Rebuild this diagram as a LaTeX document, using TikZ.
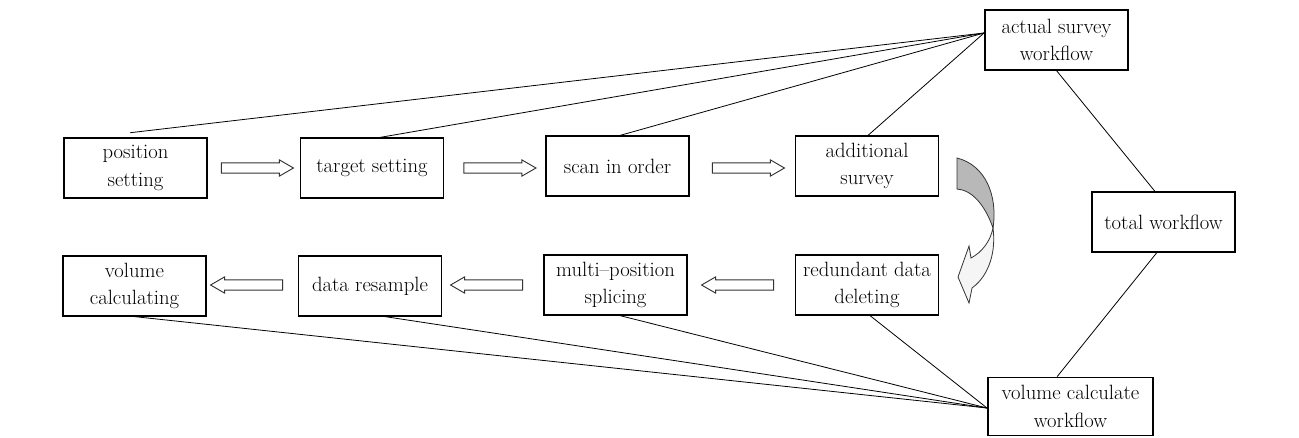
\documentclass[tikz,border=0pt]{standalone}
\usetikzlibrary{shapes.arrows,calc}
\begin{document}
\begin{tikzpicture}[x=0.75pt,y=-0.75pt,
  box/.style={draw, line width=0.9pt, minimum width=107.25pt, minimum height=45pt,
    align=center, inner sep=1pt, font=\fontsize{15.5}{20.5}\selectfont},
  rblk/.style={single arrow, draw=black!80, fill=white, line width=0.7pt,
    minimum height=54pt, minimum width=11.5pt, inner sep=3.5pt,
    single arrow tip angle=60, single arrow head extend=2.25pt},
  lblk/.style={rblk, shape border rotate=180},
  link/.style={line width=0.6pt}]
\useasboundingbox (0,0) rectangle (1299,437);

% top row
\node[box] (ps) at (135.5,168) {position\\setting};
\node[box] (ts) at (372,168) {target setting};
\node[box] (so) at (617.5,166) {scan in order};
\node[box] (as) at (867,166) {additional\\survey};
% bottom row
\node[box] (vc) at (134.5,286) {volume\\calculating};
\node[box] (dr) at (370,286) {data resample};
\node[box] (mp) at (615.5,285) {multi--position\\splicing};
\node[box] (rd) at (867,285) {redundant data\\deleting};
% right column
\node[box] (asw) at (1056.5,40) {actual survey\\workflow};
\node[box] (tw) at (1163.5,222) {total workflow};
\node[box, minimum width=123.75pt, minimum height=44pt] (vcw) at (1070.5,406.5) {volume calculate\\workflow};

% block arrows
\node[rblk] (a1) at (253,168) {};
\node[rblk] (a2) at (495.5,168) {};
\node[rblk] (a3) at (744,168) {};
\node[lblk] (b1) at (251,285) {};
\node[lblk] (b2) at (491,285) {};
\node[lblk] (b3) at (742,285) {};

% curved arrow
\filldraw[fill=black!28, draw=black!80, line width=0.6pt]
  (957,158) .. controls (985,165) and (998,195) .. (993,228)
  .. controls (985,205) and (972,190) .. (957,189) -- cycle;
\filldraw[fill=black!4, draw=black!80, line width=0.6pt]
  (993,228) .. controls (996,250) and (990,275) .. (972,288)
  -- (969,303) -- (958,277) -- (969,246) -- (971,258)
  .. controls (982,252) and (990,242) .. (993,228) -- cycle;

% connectors
\coordinate (hubA) at (984,33);
\coordinate (hubB) at (987,408);
\draw[link] ([xshift=-4.1pt,yshift=3.5pt]ps.north) -- (hubA);
\draw[link] ([xshift=6pt]ts.north) -- (hubA);
\draw[link] ([xshift=1.9pt]so.north) -- (hubA);
\draw[link] ([xshift=0.75pt]as.north) -- (hubA);
\draw[link] (vc.south) -- (hubB);
\draw[link] ([xshift=11.25pt]dr.south) -- (hubB);
\draw[link] ([xshift=3.4pt]mp.south) -- (hubB);
\draw[link] ([xshift=2.25pt]rd.south) -- (hubB);
\draw[link] (asw.south) -- ([xshift=-6.4pt]tw.north);
\draw[link] ([xshift=-5pt]tw.south) -- ([xshift=-10pt]vcw.north);
\end{tikzpicture}
\end{document}
